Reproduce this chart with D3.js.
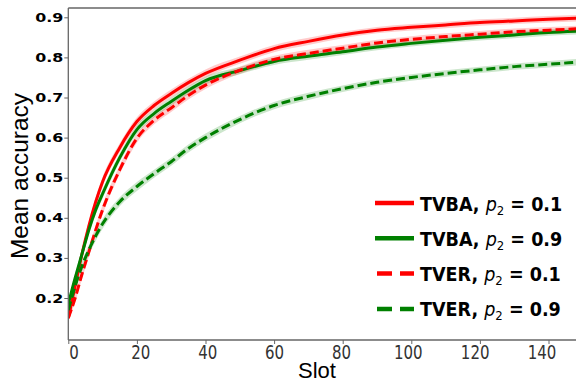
<!DOCTYPE html>
<html>
<head>
<meta charset="utf-8">
<script src="https://cdn.jsdelivr.net/npm/d3@7"></script>
<style>
  body { margin: 0; background: #fff; }
  svg { display: block; }
</style>
</head>
<body>
<div id="chart"></div>
<script>
// slots sampled along each curve
var slots = [0, 2, 4, 6, 8, 10, 15, 20, 25, 30, 35, 40, 50, 60, 70, 80, 90, 100, 110, 120, 130, 140, 150];

var tvba01 = [0.15, 0.23, 0.31, 0.38, 0.44, 0.49, 0.575, 0.64, 0.68, 0.71, 0.737, 0.76, 0.793, 0.822, 0.84, 0.856, 0.868, 0.875, 0.881, 0.887, 0.891, 0.895, 0.898];
var tvba09 = [0.185, 0.25, 0.31, 0.37, 0.42, 0.46, 0.55, 0.62, 0.66, 0.69, 0.718, 0.742, 0.767, 0.79, 0.803, 0.814, 0.826, 0.835, 0.843, 0.85, 0.856, 0.862, 0.866];
var tver01 = [0.15, 0.2, 0.26, 0.315, 0.37, 0.42, 0.52, 0.598, 0.643, 0.674, 0.705, 0.731, 0.768, 0.795, 0.81, 0.823, 0.836, 0.845, 0.852, 0.858, 0.864, 0.868, 0.872];
var tver09 = [0.17, 0.23, 0.28, 0.32, 0.355, 0.385, 0.44, 0.478, 0.51, 0.54, 0.573, 0.6, 0.645, 0.68, 0.703, 0.722, 0.738, 0.75, 0.76, 0.769, 0.777, 0.783, 0.789];
// half width of the shaded band
var spread = [0.005, 0.01, 0.012, 0.012, 0.012, 0.012, 0.011, 0.011, 0.01, 0.01, 0.01, 0.01, 0.009, 0.009, 0.009, 0.008, 0.008, 0.008, 0.008, 0.008, 0.008, 0.008, 0.008];

var seriesNames = ["TVBA", "TVBA", "TVER", "TVER"];
var seriesP2 = ["0.1", "0.9", "0.1", "0.9"];
var xTicks = [0, 20, 40, 60, 80, 100, 120, 140];
var yTicks = [0.2, 0.3, 0.4, 0.5, 0.6, 0.7, 0.8, 0.9];

var chart = {
    width: 576,
    height: 382,
    left: 68.3,
    top: 8,
    bottom: 340,
    pxPerSlot: 3.43
};

var series = [
    { name: seriesNames[0], p2: seriesP2[0], values: tvba01, color: "#ff0000", dash: null },
    { name: seriesNames[1], p2: seriesP2[1], values: tvba09, color: "#008000", dash: null },
    { name: seriesNames[2], p2: seriesP2[2], values: tver01, color: "#ff0000", dash: "9,4" },
    { name: seriesNames[3], p2: seriesP2[3], values: tver09, color: "#008000", dash: "9,4" }
];

var svg = d3.select("#chart")
    .append("svg")
    .attr("width", chart.width)
    .attr("height", chart.height);

var x = d3.scaleLinear()
    .domain([0, 150])
    .range([chart.left, chart.left + 150 * chart.pxPerSlot]);

var y = d3.scaleLinear()
    .domain([0.0953, 0.9232])
    .range([chart.bottom, chart.top]);

// clip to plot area
svg.append("clipPath").attr("id", "plot")
    .append("rect")
    .attr("x", chart.left)
    .attr("y", chart.top)
    .attr("width", chart.width - chart.left)
    .attr("height", chart.bottom - chart.top);

var plot = svg.append("g").attr("clip-path", "url(#plot)");

var area = d3.area()
    .x(function (d, i) { return x(slots[i]); })
    .y0(function (d, i) { return y(d - spread[i]); })
    .y1(function (d, i) { return y(d + spread[i]); })
    .curve(d3.curveMonotoneX);

var line = d3.line()
    .x(function (d, i) { return x(slots[i]); })
    .y(function (d) { return y(d); })
    .curve(d3.curveMonotoneX);

plot.selectAll("path.band")
    .data(series)
    .enter()
    .append("path")
    .attr("class", "band")
    .attr("d", function (s) { return area(s.values); })
    .attr("fill", function (s) { return s.color; })
    .attr("fill-opacity", 0.2);

plot.selectAll("path.curve")
    .data(series)
    .enter()
    .append("path")
    .attr("class", "curve")
    .attr("d", function (s) { return line(s.values); })
    .attr("fill", "none")
    .attr("stroke", function (s) { return s.color; })
    .attr("stroke-width", 3)
    .attr("stroke-dasharray", function (s) { return s.dash; });

// axes
var xAxis = svg.append("g")
    .attr("transform", "translate(0," + chart.bottom + ")")
    .call(d3.axisBottom(x).tickValues(xTicks).tickSize(4).tickSizeOuter(0).tickFormat(d3.format("d")));

xAxis.select(".domain").attr("stroke", "#666").attr("stroke-width", 1.3)
    .attr("d", "M" + chart.left + ",0H" + chart.width);
xAxis.selectAll(".tick line").attr("stroke", "#666");
// tick labels sit on a slightly tighter spacing than the ticks
xAxis.selectAll(".tick text")
    .attr("y", null)
    .attr("dy", null)
    .attr("transform", function (d) {
        var dx = (73.5 + 3.343 * d) - x(d);
        return "translate(" + dx + ",19) scale(1,1.28)";
    })
    .attr("font-family", "DejaVu Sans")
    .attr("font-size", 15)
    .attr("fill", "#333");

var yAxis = svg.append("g")
    .attr("transform", "translate(" + chart.left + ",0)")
    .call(d3.axisLeft(y).tickValues(yTicks).tickSize(4).tickSizeOuter(0).tickFormat(d3.format(".1f")));

yAxis.select(".domain").attr("stroke", "#666").attr("stroke-width", 1.3)
    .attr("d", "M0," + chart.bottom + "V" + chart.top);
yAxis.selectAll(".tick line").attr("stroke", "#666");
yAxis.selectAll(".tick text")
    .attr("x", null)
    .attr("transform", "translate(-5,0) scale(1.27,1)")
    .attr("font-family", "DejaVu Sans")
    .attr("font-weight", "bold")
    .attr("font-size", 12.5)
    .attr("fill", "#000");

// top spine
svg.append("line")
    .attr("x1", chart.left).attr("x2", chart.width)
    .attr("y1", chart.top).attr("y2", chart.top)
    .attr("stroke", "#666").attr("stroke-width", 1.3);

// axis titles
svg.append("text")
    .attr("x", 317).attr("y", 378)
    .attr("text-anchor", "middle")
    .attr("font-family", "Liberation Sans")
    .attr("font-size", 22)
    .text("Slot");

svg.append("text")
    .attr("transform", "translate(28,176) rotate(-90)")
    .attr("text-anchor", "middle")
    .attr("font-family", "Liberation Sans")
    .attr("font-size", 24.5)
    .text("Mean accuracy");

// legend
var legend = svg.append("g").attr("transform", "translate(375,203)");
var rows = legend.selectAll("g")
    .data(series)
    .enter()
    .append("g")
    .attr("transform", function (d, i) { return "translate(0," + i * 35.3 + ")"; });

rows.append("line")
    .attr("x1", function (s) { return s.dash ? 2 : 0; })
    .attr("x2", 39)
    .attr("stroke", function (s) { return s.color; })
    .attr("stroke-width", 4.5)
    .attr("stroke-dasharray", function (s) { return s.dash ? "15,8" : null; });

var label = rows.append("text")
    .attr("x", 45)
    .attr("y", 7.5)
    .attr("font-family", "DejaVu Sans")
    .attr("font-stretch", "condensed")
    .attr("font-size", 19.5)
    .attr("fill", "#000");

label.append("tspan").attr("font-weight", "bold").text(function (s) { return s.name + ", "; });
label.append("tspan").attr("font-style", "italic").text("p");
label.append("tspan").attr("font-size", 13).attr("dy", 4).text("2");
label.append("tspan").attr("font-weight", "bold").attr("dy", -4).text(function (s) { return " = " + s.p2; });
</script>
</body>
</html>
